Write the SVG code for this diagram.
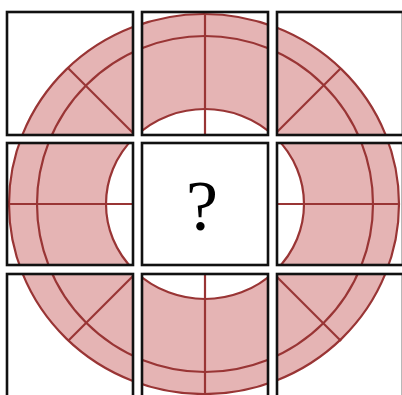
<svg xmlns="http://www.w3.org/2000/svg" width="402" height="395" viewBox="0 0 402 395">
<style>
.box{fill:none;stroke:#111;stroke-width:2.6}
.ring{fill:#e5b4b4;fill-rule:evenodd;stroke:none}
.ln{fill:none;stroke:#993535;stroke-width:2.2}
</style>
<defs>
<clipPath id="tiles">
<rect x="7" y="12" width="126" height="123"/>
<rect x="142" y="12" width="126" height="123"/>
<rect x="277" y="12" width="126" height="123"/>
<rect x="7" y="143" width="126" height="122"/>
<rect x="277" y="143" width="126" height="122"/>
<rect x="7" y="274" width="126" height="123"/>
<rect x="142" y="274" width="126" height="123"/>
<rect x="277" y="274" width="126" height="123"/>
</clipPath>
</defs>
<rect width="402" height="395" fill="#fff"/>
<g id="ring" clip-path="url(#tiles)">
<path class="ring" d="M9,204 A195,190 0 1,0 399,204 A195,190 0 1,0 9,204 Z M106,204 A99,95 0 1,0 304,204 A99,95 0 1,0 106,204 Z"/>
<ellipse class="ln" cx="204" cy="204" rx="195" ry="190"/>
<ellipse class="ln" cx="205" cy="204" rx="99" ry="95"/>
<circle class="ln" cx="205" cy="204" r="168"/>
<g id="connectors">
<line class="ln" x1="205" y1="14" x2="205" y2="394"/>
<line class="ln" x1="9" y1="204" x2="399" y2="204"/>
<line class="ln" x1="68" y1="68" x2="341" y2="341"/>
<line class="ln" x1="341" y1="68" x2="68" y2="341"/>
</g>
</g>
<g id="tile-1"><rect class="box" x="7" y="12" width="126" height="123"/></g>
<g id="tile-2"><rect class="box" x="142" y="12" width="126" height="123"/></g>
<g id="tile-3"><rect class="box" x="277" y="12" width="126" height="123"/></g>
<g id="tile-4"><rect class="box" x="7" y="143" width="126" height="122"/></g>
<g id="tile-5"><rect class="box" x="142" y="143" width="126" height="122"/>
<text x="202" y="230" font-family="Liberation Serif, serif" font-size="72" text-anchor="middle">?</text></g>
<g id="tile-6"><rect class="box" x="277" y="143" width="126" height="122"/></g>
<g id="tile-7"><rect class="box" x="7" y="274" width="126" height="123"/></g>
<g id="tile-8"><rect class="box" x="142" y="274" width="126" height="123"/></g>
<g id="tile-9"><rect class="box" x="277" y="274" width="126" height="123"/></g>
</svg>
